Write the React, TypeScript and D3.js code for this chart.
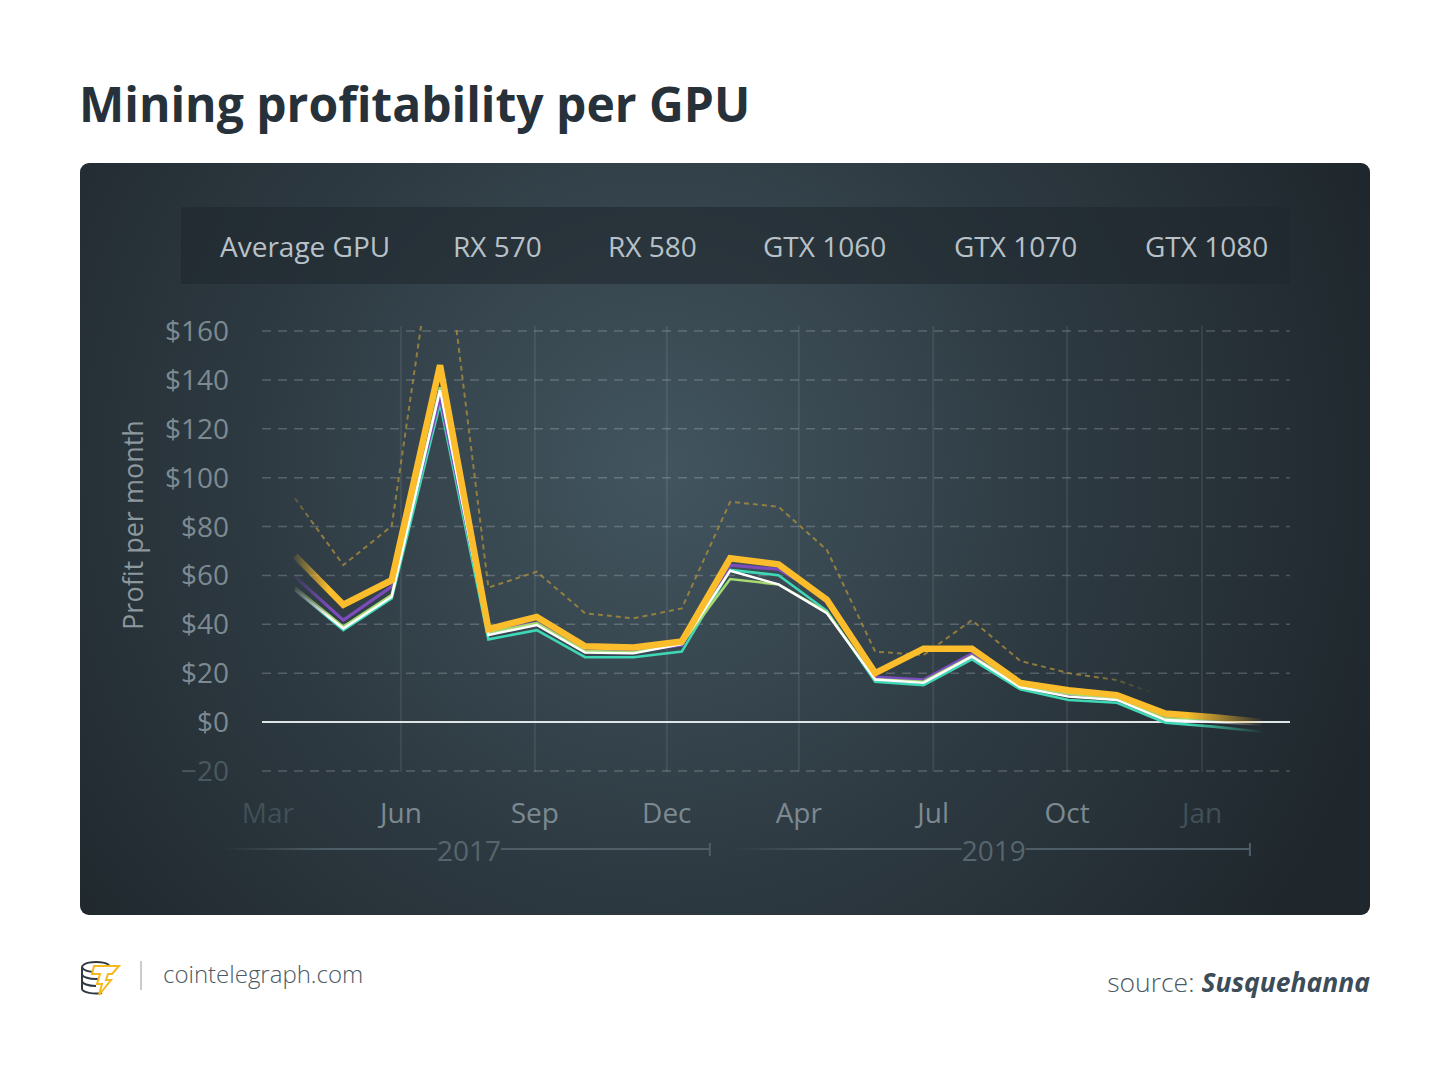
import React from 'react';
import * as d3 from 'd3';

// legend labels, in the order the chart lists them
const seriesNames = ['Average GPU', 'RX 570', 'RX 580', 'GTX 1060', 'GTX 1070', 'GTX 1080'];

// profit per month ($), one value per sample (21 samples)
const avgGpu = [68, 48, 58, 146, 38, 43, 31, 30.5, 33, 67, 64.5, 50, 20, 30, 30, 16, 13, 11, 3.5, 2, 0];
const rx570 = [54, 37.6, 50.6, 130.4, 33.8, 37.6, 26.5, 26.5, 28.8, 62.2, 60.1, 45.5, 16.5, 15.1, 25.6, 13.4, 9, 7.9, -0.3, -1.9, -4];
const rx580 = [55, 39, 52, 137, 36.5, 40.5, 29, 28.5, 32, 58.5, 56.3, 45, 17.5, 16.5, 27, 15, 11.5, 9.8, 1.5, 0.8, 0];
const gtx1060 = [54, 38.3, 51.3, 135.8, 35.6, 39.7, 28.4, 28.1, 31.9, 61.9, 56.3, 44.5, 17.4, 16, 26.7, 14.2, 10.4, 9, 0.8, 0, -1];
const gtx1070 = [59.5, 41.7, 55.4, 133, 37.6, 40.4, 29.2, 28.9, 31.5, 64.2, 62.5, 51, 18.4, 17.2, 28, 14.7, 11, 9.4, 1.9, 0.5, 0];
const gtx1080 = [91.5, 64.2, 80.2, 215, 55, 61.5, 44.5, 42.4, 46.5, 90.1, 88.1, 70.4, 28.8, 27.4, 41.7, 25, 20, 17.2, 10, 6, 3];

const yTicks = [160, 140, 120, 100, 80, 60, 40, 20, 0, -20];
// month ticks placed on the sample index axis
const monthLabels = ['Mar', 'Jun', 'Sep', 'Dec', 'Apr', 'Jul', 'Oct', 'Jan'];
const monthPos = [-0.56, 2.19, 4.96, 7.69, 10.42, 13.2, 15.97, 18.76];
const dimMonths = ['Mar', 'Jan'];
const years = ['2017', '2019'];
const yearSpans = [[-1.5, 8.58], [9.0, 19.75]];
const yearPos = [3.6, 14.45];

const FONT = '"Open Sans", "Noto Sans", sans-serif';

const App: React.FC = () => {
  const W = 1450;
  const H = 1075;

  const x = d3.scaleLinear().domain([0, 20]).range([295, 1262]);
  const y = d3.scaleLinear().domain([0, 160]).range([722, 331]);

  const line = d3
    .line<number>()
    .x((_, i) => x(i))
    .y(d => y(d));

  const gridLeft = 262;
  const gridRight = 1290;

  const lines = [
    { data: rx570, color: '#3fd8b6', width: 2.6 },
    { data: gtx1070, color: '#7b4cbc', width: 3.2 },
    { data: rx580, color: '#a6da70', width: 2.6 },
    { data: gtx1060, color: '#ffffff', width: 2.4 },
    { data: avgGpu, color: '#fbbd2b', width: 6.5 },
  ];

  return (
    <svg width={W} height={H} viewBox={`0 0 ${W} ${H}`} style={{ display: 'block', margin: -8 }}>
      <defs>
        <radialGradient id="bg" cx="660" cy="470" r="760" gradientUnits="userSpaceOnUse">
          <stop offset="0" stopColor="#42555f" />
          <stop offset="0.55" stopColor="#2d3941" />
          <stop offset="1" stopColor="#1f272c" />
        </radialGradient>
        <linearGradient id="fadeSolid" x1="290" x2="1265" y1="0" y2="0" gradientUnits="userSpaceOnUse">
          <stop offset="0" stopColor="#fff" stopOpacity="0" />
          <stop offset="0.04" stopColor="#fff" stopOpacity="1" />
          <stop offset="0.92" stopColor="#fff" stopOpacity="1" />
          <stop offset="1" stopColor="#fff" stopOpacity="0" />
        </linearGradient>
        <linearGradient id="fadeDash" x1="285" x2="1155" y1="0" y2="0" gradientUnits="userSpaceOnUse">
          <stop offset="0" stopColor="#fff" stopOpacity="0" />
          <stop offset="0.03" stopColor="#fff" stopOpacity="1" />
          <stop offset="0.93" stopColor="#fff" stopOpacity="1" />
          <stop offset="1" stopColor="#fff" stopOpacity="0" />
        </linearGradient>
        <linearGradient id="fadeYear" x1="0" x2="1" y1="0" y2="0">
          <stop offset="0" stopColor="#4e5d66" stopOpacity="0" />
          <stop offset="0.5" stopColor="#4e5d66" stopOpacity="1" />
          <stop offset="1" stopColor="#4e5d66" stopOpacity="1" />
        </linearGradient>
        <mask id="maskSolid" maskUnits="userSpaceOnUse" x="0" y="0" width={W} height={H}>
          <rect x="0" y="0" width={W} height={H} fill="url(#fadeSolid)" />
        </mask>
        <mask id="maskDash" maskUnits="userSpaceOnUse" x="0" y="0" width={W} height={H}>
          <rect x="0" y="0" width={W} height={H} fill="url(#fadeDash)" />
        </mask>
        <clipPath id="plotClip">
          <rect x={gridLeft} y={326} width={gridRight - gridLeft} height={470} />
        </clipPath>
      </defs>

      <rect x={0} y={0} width={W} height={H} fill="#ffffff" />

      {/* title */}
      <text x={79} y={122} fontFamily={FONT} fontWeight={700} fontSize={48} fill="#26313a">
        Mining profitability per GPU
      </text>

      {/* card */}
      <rect x={80} y={163} width={1290} height={752} rx={9} fill="url(#bg)" />

      {/* legend band */}
      <rect x={181} y={207} width={1109} height={77} fill="#1f282e" opacity={0.6} />
      {seriesNames.map((n, i) => (
        <text
          key={n}
          x={[220, 453, 608, 763, 954, 1145][i]}
          y={257}
          fontFamily={FONT}
          fontSize={28}
          fill="#b7c1c7"
        >
          {n}
        </text>
      ))}

      {/* vertical grid */}
      {monthPos.slice(1).map((p, i) => (
        <line key={i} x1={x(p)} x2={x(p)} y1={326} y2={772} stroke="#ffffff" strokeOpacity={0.08} strokeWidth={2} />
      ))}

      {/* horizontal grid */}
      {yTicks.map(t => (
        <line
          key={t}
          x1={gridLeft}
          x2={gridRight}
          y1={y(t)}
          y2={y(t)}
          stroke={t === 0 ? '#dfe4e7' : '#ffffff'}
          strokeOpacity={t === 0 ? 1 : 0.2}
          strokeWidth={t === 0 ? 2 : 1.5}
          strokeDasharray={t === 0 ? undefined : '9 7'}
        />
      ))}

      {/* y tick labels */}
      {yTicks.map(t => (
        <text
          key={t}
          x={229}
          y={y(t) + 10}
          textAnchor="end"
          fontFamily={FONT}
          fontSize={28}
          fill={t < 0 ? '#4a5860' : '#7d8a91'}
        >
          {t < 0 ? `\u2212${Math.abs(t)}` : `$${t}`}
        </text>
      ))}

      <text
        transform={`translate(143,525) rotate(-90)`}
        textAnchor="middle"
        fontFamily={FONT}
        fontSize={27}
        fill="#8c989e"
      >
        Profit per month
      </text>

      {/* series */}
      <g clipPath="url(#plotClip)">
        <g mask="url(#maskDash)">
          <path
            d={line(gtx1080) || ''}
            fill="none"
            stroke="#b0923a"
            strokeOpacity={0.75}
            strokeWidth={2}
            strokeDasharray="5 4"
          />
        </g>
        <g mask="url(#maskSolid)">
          {lines.map((l, i) => (
            <path
              key={i}
              d={line(l.data) || ''}
              fill="none"
              stroke={l.color}
              strokeWidth={l.width}
              strokeLinejoin="miter"
            />
          ))}
        </g>
      </g>

      {/* month labels */}
      {monthLabels.map((m, i) => (
        <text
          key={m}
          x={x(monthPos[i])}
          y={823}
          textAnchor="middle"
          fontFamily={FONT}
          fontSize={28}
          fill={dimMonths.includes(m) ? '#415058' : '#7b8991'}
        >
          {m}
        </text>
      ))}

      {/* year spans */}
      {years.map((yr, i) => {
        const x0 = x(yearSpans[i][0]);
        const x1 = x(yearSpans[i][1]);
        const xc = x(yearPos[i]);
        return (
          <g key={yr}>
            <rect x={x0} y={848} width={xc - 32 - x0} height={2} fill="url(#fadeYear)" />
            <line x1={xc + 32} x2={x1} y1={849} y2={849} stroke="#4e5d66" strokeWidth={2} />
            <line x1={x1} x2={x1} y1={843} y2={856} stroke="#4e5d66" strokeWidth={2} />
            <text x={xc} y={861} textAnchor="middle" fontFamily={FONT} fontSize={28} fill="#56656e">
              {yr}
            </text>
          </g>
        );
      })}

      {/* footer logo */}
      <g fill="none" strokeWidth={2}>
        <g stroke="#2f3a42">
          <path d="M96 962 a14 5 0 1 0 0.1 0 Z" />
          <path d="M82 967 v22 a14 5 0 0 0 20 4" />
          <path d="M82 974 a14 5 0 0 0 16 5" />
          <path d="M82 981 a14 5 0 0 0 14 5" />
        </g>
        <path d="M94 966 h25 l-7 8 h-4 l-2 6 h5 l-12 15 l3 -11 h-5 l3 -10 h-8 Z" stroke="#f6b81f" fill="#ffffff" />
      </g>
      <line x1={141} x2={141} y1={961} y2={990} stroke="#b3bbc0" strokeWidth={1.5} />
      <text x={163} y={983} fontFamily={FONT} fontWeight={300} fontSize={24} fill="#4b5a65">
        cointelegraph.com
      </text>
      <text x={1370} y={992} textAnchor="end" fontFamily={FONT} fontSize={26.5}>
        <tspan fontWeight={300} fill="#4b5a65">source: </tspan>
        <tspan fontWeight={700} fontStyle="italic" fill="#3c4c58">Susquehanna</tspan>
      </text>
    </svg>
  );
};

export default App;
